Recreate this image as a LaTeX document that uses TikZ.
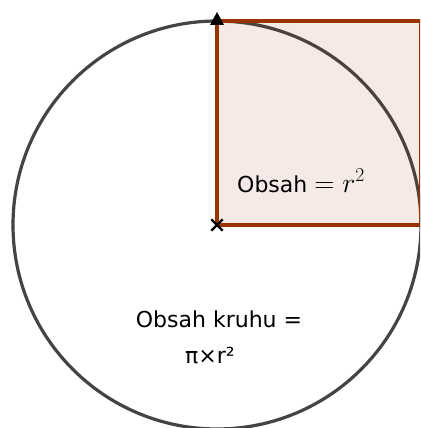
\RequirePackage{fix-cm}
\documentclass[tikz,border=0pt]{standalone}
\usepackage{fontspec}
\setmainfont{DejaVu Sans}
\usetikzlibrary{shapes.misc}
\definecolor{hneda}{RGB}{153,51,0}
\definecolor{sediva}{RGB}{68,68,68}
\newcommand{\velky}{\fontsize{22}{26}\selectfont}
\newcommand{\vzorecvelky}{\fontsize{28}{32}\selectfont}

\begin{document}
\begin{tikzpicture}[x=1pt,y=-1pt,
  kruh/.style={draw=sediva,line width=3.2pt},
  hrana/.style={draw=hneda,line width=3.4pt,line join=miter},
  popis/.style={font=\velky,inner sep=0pt}]

\useasboundingbox (0,0) rectangle (420,428);
\clip (0,0) rectangle (420,428);

\coordinate (S) at (217,225);
\coordinate (A) at (217,21);
\coordinate (B) at (421,21);
\coordinate (C) at (421,225);

\draw[kruh] (S) circle[radius=204pt];

\fill[hneda,opacity=0.1] (S) -- (A) -- (B) -- (C) -- cycle;
\draw[hrana] (S) -- (A) -- (B) -- (C) -- cycle;

\fill[black] (A) ++(0,-9) -- ++(7,13) -- ++(-14,0) -- cycle;
\node[cross out,draw=black,line width=2.4pt,minimum size=9pt,inner sep=0pt] (stred) at (S) {};

\node[popis,anchor=base west] (obsah) at (237,192) {Obsah {\vzorecvelky$= r^2$}};

\node[popis,anchor=base] (kruhu) at (219,327) {Obsah kruhu =};
\node[popis,anchor=base] (vzorec) at (210,363) {π×r²};

\end{tikzpicture}
\end{document}
